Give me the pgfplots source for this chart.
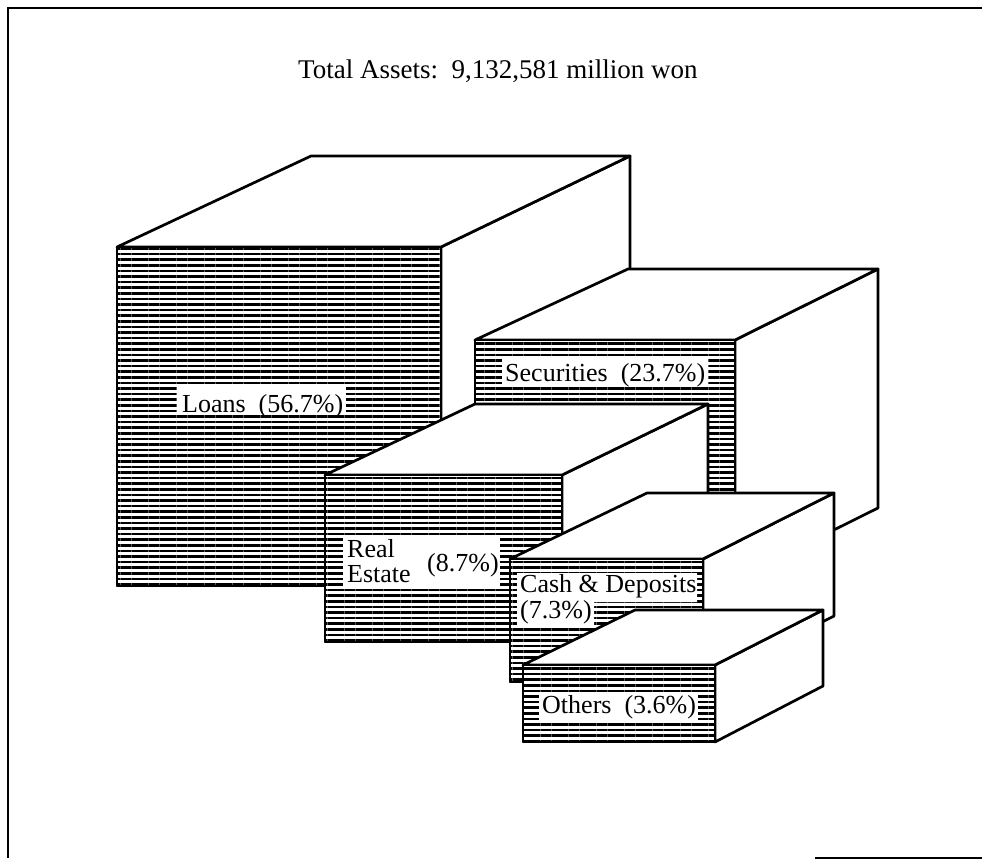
\documentclass[border=0pt]{standalone}
\usepackage{pgfplots}
\pgfplotsset{compat=1.18}
\usepackage{fontspec}
\setmainfont{Liberation Serif}
\usetikzlibrary{patterns.meta}
\pgfplotsset{
  face/.style={draw=black,line width=2.7pt,line join=round,fill=white},
  hatched/.style={draw=black,line width=2.7pt,line join=round,
    preaction={fill=white},
    pattern={Lines[angle=0,distance=5.6pt,line width=2.6pt]},pattern color=black},
  back/.style={draw=none,fill=white}
}
\tikzset{
  lab/.style={anchor=base west,inner sep=0pt,font=\fontsize{26}{28}\selectfont},
  ttl/.style={anchor=base west,inner sep=0pt,font=\fontsize{27}{29}\selectfont}
}
\begin{document}
\begin{tikzpicture}
\begin{axis}[
  scale only axis,width=982pt,height=859pt,
  xmin=0,xmax=982,ymin=0,ymax=859,y dir=reverse,
  hide axis,clip=true]
% page background and frame
\addplot[draw=none,fill=white] coordinates {(0,0)(982,0)(982,859)(0,859)} --cycle;
\addplot[black,line width=2.6pt] coordinates {(982,8)(8,8)(8,858)};
\addplot[black,line width=2.2pt] coordinates {(815,858)(982,858)};

% Loans
\addplot[face] coordinates {(441,247)(630,156)(630,496)(441,586)} --cycle;
\addplot[face] coordinates {(117,247)(311,156)(630,156)(441,247)} --cycle;
\addplot[hatched] coordinates {(117,247)(441,247)(441,586)(117,586)} --cycle;
\addplot[back] coordinates {(177,387)(346,387)(346,415)(177,415)} --cycle;

% Securities
\addplot[face] coordinates {(735,340)(878,269)(878,508)(735,579)} --cycle;
\addplot[face] coordinates {(475,340)(628,269)(878,269)(735,340)} --cycle;
\addplot[hatched] coordinates {(475,340)(735,340)(735,579)(475,579)} --cycle;
\addplot[back] coordinates {(502,359)(708,359)(708,386)(502,386)} --cycle;

% Real Estate
\addplot[face] coordinates {(562,475)(708,404)(708,570)(562,642)} --cycle;
\addplot[face] coordinates {(325,475)(475,404)(708,404)(562,475)} --cycle;
\addplot[hatched] coordinates {(325,475)(562,475)(562,642)(325,642)} --cycle;
\addplot[back] coordinates {(343,536)(500,536)(500,587)(343,587)} --cycle;

% Cash & Deposits
\addplot[face] coordinates {(703,559)(834,493)(834,616)(703,682)} --cycle;
\addplot[face] coordinates {(510,559)(647,493)(834,493)(703,559)} --cycle;
\addplot[hatched] coordinates {(510,559)(703,559)(703,682)(510,682)} --cycle;
\addplot[back] coordinates {(517,573)(697,573)(697,602)(594,602)(594,627)(517,627)} --cycle;

% Others
\addplot[face] coordinates {(715,665)(823,610)(823,686)(715,742)} --cycle;
\addplot[face] coordinates {(523,665)(635,610)(823,610)(715,665)} --cycle;
\addplot[hatched] coordinates {(523,665)(715,665)(715,742)(523,742)} --cycle;
\addplot[back] coordinates {(539,692)(698,692)(698,722)(539,722)} --cycle;

% labels
\node[ttl] at (axis cs:298,78) {Total Assets:\ \ 9,132,581 million won};
\node[lab] at (axis cs:182,412) {Loans\ \ (56.7\%)};
\node[lab] at (axis cs:505,381) {Securities\ \ (23.7\%)};
\node[lab] at (axis cs:347,557) {Real};
\node[lab] at (axis cs:347,582) {Estate};
\node[lab] at (axis cs:427,571) {(8.7\%)};
\node[lab] at (axis cs:520,592) {Cash \& Deposits};
\node[lab] at (axis cs:520,618) {(7.3\%)};
\node[lab] at (axis cs:542,713) {Others\ \ (3.6\%)};
\end{axis}
\end{tikzpicture}
\end{document}
